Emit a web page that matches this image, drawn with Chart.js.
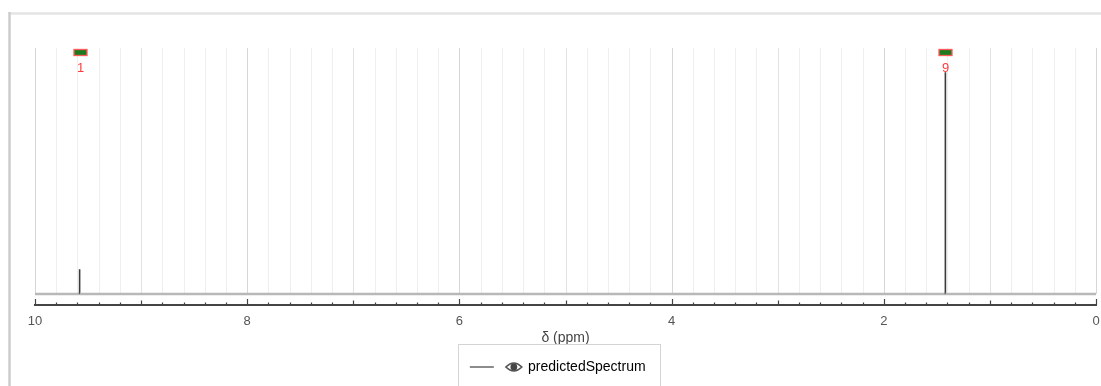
<!DOCTYPE html>
<html><head><meta charset="utf-8">
<script src="https://cdn.jsdelivr.net/npm/chart.js@4.4.1/dist/chart.umd.min.js"></script>
<style>html,body{margin:0;padding:0;background:#fff;overflow:hidden}</style>
</head><body>
<canvas id="c" width="1101" height="386"></canvas>
<script>
// ---- data ----
const spectrumPpm       = [10, 9.581, 9.58, 9.579, 1.421, 1.42, 1.419, 0];
const spectrumIntensity = [0,  0,     1,    0,     0,     9,    0,     0];
const peakPpm           = [9.58, 1.42];
const integrationLabels = ['1', '9'];
const tickLabelValues   = [10, 8, 6, 4, 2, 0];
const axisTitle         = 'δ (ppm)';
const seriesName        = 'predictedSpectrum';

const FONT = '"Liberation Sans", Arial, sans-serif';
const points = spectrumPpm.map((x, i) => ({x, y: spectrumIntensity[i]}));
const isNear = (a, b) => Math.abs(a - b) < 1e-6;

const decorPlugin = {
  id: 'decor',
  beforeDraw(chart) {
    const ctx = chart.ctx;
    ctx.save();
    ctx.strokeStyle = '#e4e4e4'; ctx.lineWidth = 2.5;
    ctx.beginPath(); ctx.moveTo(9, 13.5); ctx.lineTo(chart.width, 13.5); ctx.stroke();
    ctx.strokeStyle = '#cccccc'; ctx.lineWidth = 2.5;
    ctx.beginPath(); ctx.moveTo(9.5, 12); ctx.lineTo(9.5, chart.height); ctx.stroke();
    ctx.restore();
  },
  beforeDatasetsDraw(chart) {
    const ctx = chart.ctx, xs = chart.scales.x, ys = chart.scales.y, area = chart.chartArea;
    const y0 = ys.getPixelForValue(0);
    ctx.save();
    xs.ticks.forEach(t => {
      const px = Math.round(xs.getPixelForValue(t.value)) + 0.5;
      const integer = isNear(t.value, Math.round(t.value));
      const even = integer && Math.round(t.value) % 2 === 0;
      ctx.strokeStyle = even ? '#d6d6d6' : (integer ? '#e2e2e2' : '#efefef');
      ctx.lineWidth = 1;
      ctx.beginPath(); ctx.moveTo(px, area.top); ctx.lineTo(px, y0); ctx.stroke();
      const len = even ? 6 : (integer ? 4.5 : 2.5);
      ctx.strokeStyle = '#444'; ctx.lineWidth = 1.2;
      ctx.beginPath(); ctx.moveTo(px, area.bottom); ctx.lineTo(px, area.bottom - len); ctx.stroke();
    });
    ctx.restore();
  },
  afterDraw(chart) {
    const ctx = chart.ctx, xs = chart.scales.x, area = chart.chartArea;
    ctx.save();
    peakPpm.forEach((p, i) => {
      const px = Math.round(xs.getPixelForValue(p));
      ctx.fillStyle = '#1f7a1f';
      ctx.strokeStyle = '#ff5a5a';
      ctx.lineWidth = 1.3;
      ctx.fillRect(px - 6, area.top + 1.5, 13, 6);
      ctx.strokeRect(px - 6, area.top + 1.5, 13, 6);
      ctx.fillStyle = '#ff3b3b';
      ctx.font = '13px ' + FONT;
      ctx.textAlign = 'center'; ctx.textBaseline = 'middle';
      ctx.fillText(integrationLabels[i], px + 0.5, area.top + 20);
    });
    const lg = chart.legend;
    if (lg && lg.legendHitBoxes && lg.legendHitBoxes.length) {
      const hb = lg.legendHitBoxes[0];
      const cy = hb.top + hb.height / 2;
      ctx.strokeStyle = '#d4d4d4'; ctx.lineWidth = 1;
      ctx.strokeRect(Math.round(hb.left - 12) + 0.5, 344.5, 202, 60);
      const ex = hb.left + 44;
      ctx.fillStyle = '#444'; ctx.strokeStyle = '#555'; ctx.lineWidth = 1.6;
      ctx.beginPath();
      ctx.moveTo(ex - 8, cy);
      ctx.quadraticCurveTo(ex, cy - 8, ex + 8, cy);
      ctx.quadraticCurveTo(ex, cy + 8, ex - 8, cy);
      ctx.closePath(); ctx.stroke();
      ctx.beginPath(); ctx.arc(ex, cy, 3.4, 0, Math.PI * 2); ctx.fill();
    }
    ctx.restore();
  }
};

new Chart(document.getElementById('c'), {
  type: 'line',
  data: {
    datasets: [{
      label: seriesName,
      data: points,
      borderColor: '#3a3a3a',
      borderWidth: 1.6,
      pointRadius: 0,
      tension: 0,
      fill: false,
      segment: {
        borderColor: c => (c.p0.parsed.y === 0 && c.p1.parsed.y === 0) ? '#b8b8b8' : '#3a3a3a',
        borderWidth: c => (c.p0.parsed.y === 0 && c.p1.parsed.y === 0) ? 2.5 : 1.6
      }
    }]
  },
  options: {
    responsive: false,
    animation: false,
    devicePixelRatio: 1,
    layout: { padding: { left: 35, right: 5, top: 48, bottom: 2 } },
    plugins: {
      tooltip: { enabled: false },
      legend: {
        display: true,
        position: 'bottom',
        labels: {
          usePointStyle: true,
          pointStyle: 'line',
          pointStyleWidth: 24,
          color: '#333',
          padding: 13,
          font: { size: 14, family: FONT },
          generateLabels: () => [{
            text: '       ' + seriesName + '    ',
            strokeStyle: '#666', fillStyle: '#666', lineWidth: 1.5,
            pointStyle: 'line', hidden: false, datasetIndex: 0
          }]
        }
      }
    },
    scales: {
      x: {
        type: 'linear',
        reverse: true,
        min: 0, max: 10,
        afterFit: s => { s.paddingLeft = 0; s.paddingRight = 0; s.height = 42; },
        grid: { display: false, drawTicks: false },
        border: { display: true, color: '#444', width: 2 },
        ticks: {
          stepSize: 0.2,
          autoSkip: false,
          maxRotation: 0,
          padding: 9,
          color: '#555',
          font: { size: 13, family: FONT },
          callback: v => tickLabelValues.some(t => isNear(t, v)) ? String(Math.round(v)) : ''
        },
        title: {
          display: true, text: axisTitle, color: '#444',
          font: { size: 14, family: FONT },
          padding: { top: 1, bottom: 0.6 }
        }
      },
      y: { display: false, min: -0.45, max: 9.98 }
    }
  },
  plugins: [decorPlugin]
});
</script>
</body></html>
